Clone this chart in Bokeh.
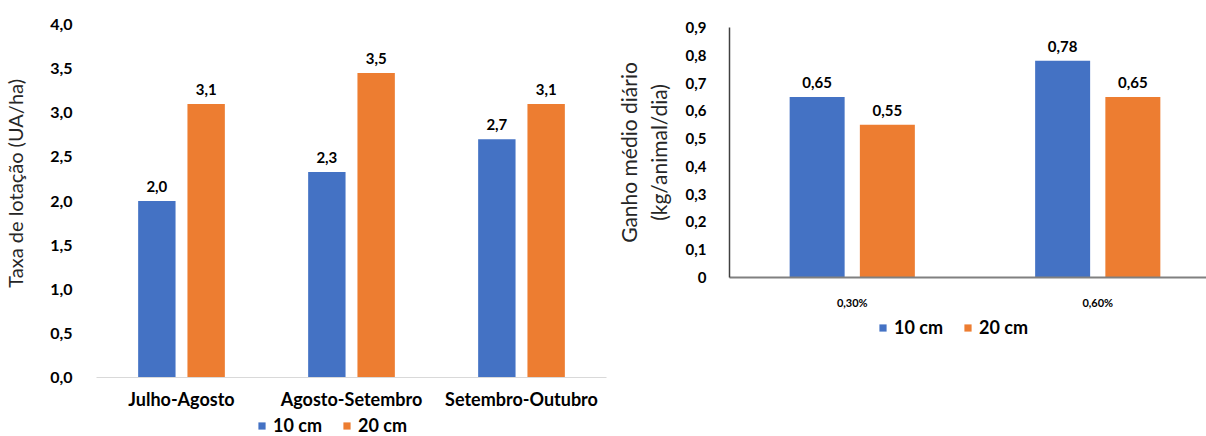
from bokeh.plotting import figure
from bokeh.layouts import row, column
from bokeh.models import FactorRange, Range1d, FixedTicker, Legend, LegendItem, ColumnDataSource
from bokeh.transform import dodge
from bokeh.core.properties import value
from bokeh.embed import file_html
from bokeh.resources import INLINE

# ---------------- data ----------------
series_names = ["10 cm", "20 cm"]

periods = ["Julho-Agosto", "Agosto-Setembro", "Setembro-Outubro"]
lotacao_10cm = [2.0, 2.33, 2.7]
lotacao_20cm = [3.1, 3.45, 3.1]
lotacao_ticks = [0.0, 0.5, 1.0, 1.5, 2.0, 2.5, 3.0, 3.5, 4.0]
lotacao_tick_labels = ["0,0", "0,5", "1,0", "1,5", "2,0", "2,5", "3,0", "3,5", "4,0"]

doses = ["0,30%", "0,60%"]
ganho_10cm = [0.65, 0.78]
ganho_20cm = [0.55, 0.65]
ganho_ticks = [0.0, 0.1, 0.2, 0.3, 0.4, 0.5, 0.6, 0.7, 0.8, 0.9]
ganho_tick_labels = ["0", "0,1", "0,2", "0,3", "0,4", "0,5", "0,6", "0,7", "0,8", "0,9"]

BLUE = "#4472C4"
ORANGE = "#ED7D31"
FONT = "Lato"
SERIES_COLORS = [BLUE, ORANGE]
NBSP = "\u00a0"


def fmt(v, nd):
    return f"{v:.{nd}f}".replace(".", ",")


def style_common(p):
    p.frame_align = False
    p.outline_line_color = None
    p.xgrid.grid_line_color = None
    p.ygrid.grid_line_color = None
    p.background_fill_color = "white"
    p.border_fill_color = "white"
    for ax in (p.xaxis[0], p.yaxis[0]):
        ax.major_tick_line_color = None
        ax.minor_tick_line_color = None
        ax.major_label_text_font = FONT
        ax.major_label_text_font_style = "bold"
        ax.major_label_text_color = "black"
        ax.axis_label_text_font = FONT
        ax.axis_label_text_font_style = "normal"
        ax.axis_label_text_color = "#262626"


def legend_strip(width, height, left_px):
    lp = figure(width=width, height=height, output_backend="svg", toolbar_location=None,
                x_range=Range1d(0, 1), y_range=Range1d(0, 1),
                x_axis_location=None, y_axis_location=None,
                min_border=0)
    lp.frame_align = False
    lp.outline_line_color = None
    lp.grid.grid_line_color = None
    # zero-height swatch carriers (only their legend glyphs are visible)
    rs = [lp.vbar(x=[0.5], top=[0.0], width=0.01, fill_color=c, line_color=None)
          for c in SERIES_COLORS]
    legend = Legend(
        items=[LegendItem(label=n, renderers=[r]) for n, r in zip(series_names, rs)],
        orientation="horizontal",
        location=(left_px, 0),
        glyph_width=9,
        glyph_height=9,
        label_standoff=7,
        spacing=20,
        padding=0,
        margin=0,
        label_height=22,
        border_line_color=None,
        background_fill_alpha=0,
        label_text_font=FONT,
        label_text_font_style="bold",
        label_text_font_size="18px",
        label_text_color="black",
    )
    lp.add_layout(legend, "center")
    return lp


# ---------------- left chart ----------------
p1 = figure(
    x_range=FactorRange(*periods, range_padding=0),
    y_range=Range1d(0, 4.0),
    width=612, height=412,
    output_backend="svg", toolbar_location=None,
    min_border_left=96, min_border_right=6, min_border_top=24, min_border_bottom=33,
)
style_common(p1)
src1 = ColumnDataSource(dict(
    period=periods,
    v10=lotacao_10cm, v20=lotacao_20cm,
    l10=[fmt(v, 1) for v in lotacao_10cm],
    l20=[fmt(v, 1) for v in lotacao_20cm],
))
off1 = 0.145
p1.vbar(x=dodge("period", -off1, range=p1.x_range), top="v10", width=0.22,
        source=src1, fill_color=BLUE, line_color=None)
p1.vbar(x=dodge("period", off1, range=p1.x_range), top="v20", width=0.22,
        source=src1, fill_color=ORANGE, line_color=None)
for col, lab, o in (("v10", "l10", -off1), ("v20", "l20", off1)):
    p1.text(x=dodge("period", o, range=p1.x_range), y=col, text=lab, source=src1,
            text_align="center", text_baseline="bottom", y_offset=-9,
            text_font=value(FONT), text_font_style="bold", text_font_size="15px",
            text_color="black")

p1.yaxis.ticker = FixedTicker(ticks=lotacao_ticks)
p1.yaxis.major_label_overrides = dict(zip(lotacao_ticks, lotacao_tick_labels))
p1.yaxis.axis_line_color = None
p1.yaxis.major_label_text_font_size = "16px"
p1.yaxis.major_label_standoff = 18
# leading no-break spaces shift the centred title upward, as in the original
p1.yaxis.axis_label = NBSP * 7 + "Taxa de lotação (UA/ha)"
p1.yaxis.axis_label_text_font_size = "20px"
p1.yaxis.axis_label_standoff = 20

p1.xaxis.axis_line_color = "#D9D9D9"
p1.xaxis.axis_line_width = 1
p1.xaxis.major_label_text_font_size = "18px"
p1.xaxis.major_label_standoff = 4

leg1 = legend_strip(612, 24, 257)

# ---------------- right chart ----------------
xpos = [i + 0.5 for i in range(len(doses))]
p2 = figure(
    x_range=Range1d(0, 1.943),
    y_range=Range1d(0, 0.9),
    width=594, height=316,
    output_backend="svg", toolbar_location=None,
    min_border_left=116, min_border_right=0, min_border_top=27, min_border_bottom=39,
)
style_common(p2)
src2 = ColumnDataSource(dict(
    x=xpos,
    v10=ganho_10cm, v20=ganho_20cm,
    l10=[fmt(v, 2) for v in ganho_10cm],
    l20=[fmt(v, 2) for v in ganho_20cm],
))
off2 = 0.143
p2.vbar(x=dodge("x", -off2), top="v10", width=0.224,
        source=src2, fill_color=BLUE, line_color=None)
p2.vbar(x=dodge("x", off2), top="v20", width=0.224,
        source=src2, fill_color=ORANGE, line_color=None)
for col, lab, o in (("v10", "l10", -off2), ("v20", "l20", off2)):
    p2.text(x=dodge("x", o), y=col, text=lab, source=src2,
            text_align="center", text_baseline="bottom", y_offset=-9,
            text_font=value(FONT), text_font_style="bold", text_font_size="15px",
            text_color="black")

p2.yaxis.ticker = FixedTicker(ticks=ganho_ticks)
p2.yaxis.major_label_overrides = dict(zip(ganho_ticks, ganho_tick_labels))
p2.yaxis.axis_line_color = "#404040"
p2.yaxis.axis_line_width = 1.5
p2.yaxis.major_label_text_font_size = "15px"
p2.yaxis.major_label_standoff = 17
p2.yaxis.axis_label = "Ganho médio diário\n(kg/animal/dia)"
p2.yaxis.axis_label_text_font_size = "21px"
p2.yaxis.axis_label_standoff = 12

p2.xaxis.ticker = FixedTicker(ticks=xpos)
p2.xaxis.major_label_overrides = dict(zip(xpos, doses))
p2.xaxis.axis_line_color = "#808080"
p2.xaxis.axis_line_width = 2
p2.xaxis.major_label_text_font_size = "11px"
p2.xaxis.major_label_standoff = 12

leg2 = legend_strip(594, 22, 266)

layout = row(column(p1, leg1, spacing=0), column(p2, leg2, spacing=0), spacing=0)
open("out.html", "w").write(file_html(layout, INLINE))
